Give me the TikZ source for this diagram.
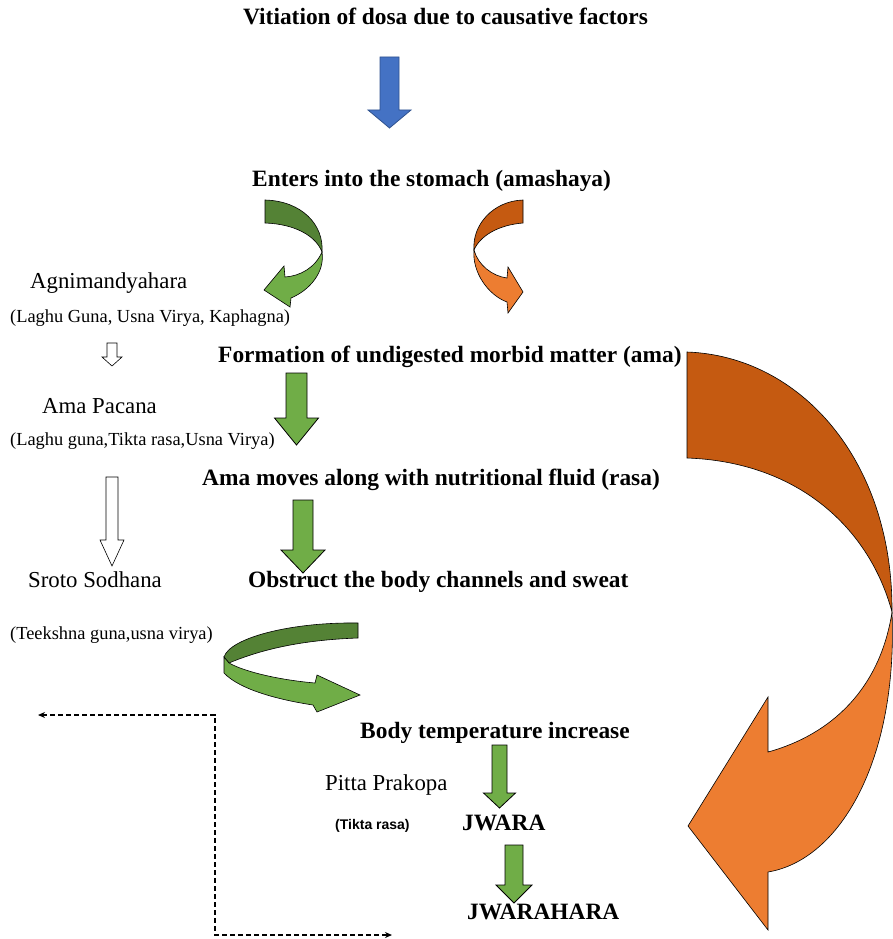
\documentclass[tikz,border=0pt]{standalone}
\usepackage{fontspec}
\setmainfont{Liberation Serif}
\newfontfamily\tiktafont{Liberation Sans}
\usetikzlibrary{arrows.meta}
\definecolor{blueA}{HTML}{4472C4}
\definecolor{blueE}{HTML}{2F528F}
\definecolor{greenL}{HTML}{70AD47}
\definecolor{greenD}{HTML}{548235}
\definecolor{orangeL}{HTML}{ED7D31}
\definecolor{orangeD}{HTML}{C55A11}
% #1 style, #2 centre x, #3 top y, #4 head base y, #5 tip y, #6 shaft half width, #7 head half width
\newcommand{\dnarrow}[7]{%
  \draw[#1] ({#2-#6},#3) -- ({#2+#6},#3) -- ({#2+#6},#4) -- ({#2+#7},#4) -- (#2,#5)
    -- ({#2-#7},#4) -- ({#2-#6},#4) -- cycle;}
\begin{document}
\begin{tikzpicture}[x=1pt,y=-1pt,
  headtxt/.style={font=\fontsize{23.4}{27}\selectfont\bfseries, anchor=base west, inner sep=0pt},
  bigtxt/.style={font=\fontsize{22.8}{27}\selectfont, anchor=base west, inner sep=0pt},
  smalltxt/.style={font=\fontsize{18.4}{22}\selectfont, anchor=base west, inner sep=0pt},
  tiktatxt/.style={font=\tiktafont\bfseries\fontsize{14}{16}\selectfont, anchor=base west, inner sep=0pt},
  bluearrow/.style={fill=blueA, draw=blueE, line width=0.8pt},
  greenarrow/.style={fill=greenL, draw=black, line width=0.8pt},
  hollowarrow/.style={fill=white, draw=black, line width=0.6pt},
  ribbon/.style={draw=black, line width=0.6pt},
  dashline/.style={dashed, dash pattern=on 5pt off 3pt, line width=1.3pt, {Stealth[length=7pt,width=6pt]}-{Stealth[length=7pt,width=6pt]}}
]
\useasboundingbox (0,0) rectangle (893,939);
\fill[white] (0,0) rectangle (893,939);

% ---- texts ----
\node[headtxt] (t1) at (243,25) {Vitiation of dosa due to causative factors};
\node[headtxt] (t2) at (252,186) {Enters into the stomach (amashaya)};
\node[bigtxt] (l1) at (30,288) {Agnimandyahara};
\node[smalltxt] (l1b) at (10,322) {(Laghu Guna, Usna Virya, Kaphagna)};
\node[headtxt] (t3) at (218,362) {Formation of undigested morbid matter (ama)};
\node[bigtxt] (l2) at (42,413) {Ama Pacana};
\node[smalltxt] (l2b) at (10,445) {(Laghu guna,Tikta rasa,Usna Virya)};
\node[headtxt] (t4) at (202,485) {Ama moves along with nutritional fluid (rasa)};
\node[bigtxt] (l3) at (28,587) {Sroto Sodhana};
\node[headtxt] (t5) at (248,587) {Obstruct the body channels and sweat};
\node[smalltxt] (l3b) at (10,639) {(Teekshna guna,usna virya)};
\node[headtxt] (t6) at (360,738) {Body temperature increase};
\node[bigtxt] (p1) at (325,790) {Pitta Prakopa};
\node[tiktatxt] (p2) at (335,829) {(Tikta rasa)};
\node[headtxt] (t7) at (462,830) {JWARA};
\node[headtxt] (t8) at (467,919) {JWARAHARA};

% ---- straight block arrows ----
\dnarrow{bluearrow}{389.5}{57}{110}{128}{9.5}{21.5}
\dnarrow{greenarrow}{296.5}{373}{418}{445}{10.5}{22}
\dnarrow{greenarrow}{303}{500}{550}{573}{10}{22}
\dnarrow{greenarrow}{499.5}{745}{793}{808}{7.5}{16}
\dnarrow{greenarrow}{514}{845}{885}{903}{9}{18}
\dnarrow{hollowarrow}{112}{343}{357}{366}{5}{10}
\dnarrow{hollowarrow}{112}{477}{540}{566}{6}{12}

% ---- top-left green curved arrow ----
\filldraw[ribbon, fill=greenD] (265,200) .. controls (302,201) and (324,225) .. (322,252)
  .. controls (316,236) and (295,224) .. (265,223) -- cycle;
\filldraw[ribbon, fill=greenL] (322,252) .. controls (325,272) and (310,290) .. (291,298)
  -- (290,307) -- (264,290) -- (284,266) -- (285,277)
  .. controls (300,276) and (315,268) .. (322,252) -- cycle;

% ---- top orange curved arrow ----
\filldraw[ribbon, fill=orangeD] (523,200) .. controls (493,201) and (472,225) .. (474,250)
  .. controls (480,236) and (498,225) .. (523,223) -- cycle;
\filldraw[ribbon, fill=orangeL] (474,250) .. controls (472,272) and (488,295) .. (507,302)
  -- (508,313) -- (523,292) -- (508,267) -- (507,278)
  .. controls (492,276) and (478,265) .. (474,250) -- cycle;

% ---- middle green curved arrow ----
\filldraw[ribbon, fill=greenD] (358,623) .. controls (290,622) and (230,638) .. (224,657)
  -- (229,663) .. controls (260,650) and (300,640) .. (358,638) -- cycle;
\filldraw[ribbon, fill=greenL] (224,657) -- (224,673) .. controls (240,690) and (280,700) .. (313,705)
  -- (317,712) -- (360,695) -- (317,675) -- (315,683)
  .. controls (280,680) and (245,672) .. (229,663) -- cycle;

% ---- big orange curved arrow ----
\filldraw[ribbon, fill=orangeD] (687,352) .. controls (800,356) and (893,460) .. (892,612)
  .. controls (870,530) and (800,462) .. (687,458) -- cycle;
\filldraw[ribbon, fill=orangeL] (892,612) .. controls (898,760) and (840,860) .. (768,872)
  -- (768,930) -- (688,826) -- (768,697) -- (768,752)
  .. controls (830,735) and (880,690) .. (892,612) -- cycle;

% ---- dashed connector ----
\coordinate (d1) at (38,715);
\coordinate (d2) at (215,715);
\coordinate (d3) at (215,935);
\coordinate (d4) at (392,935);
\draw[dashline] (d1) -- (d2) -- (d3) -- (d4);
\end{tikzpicture}
\end{document}
